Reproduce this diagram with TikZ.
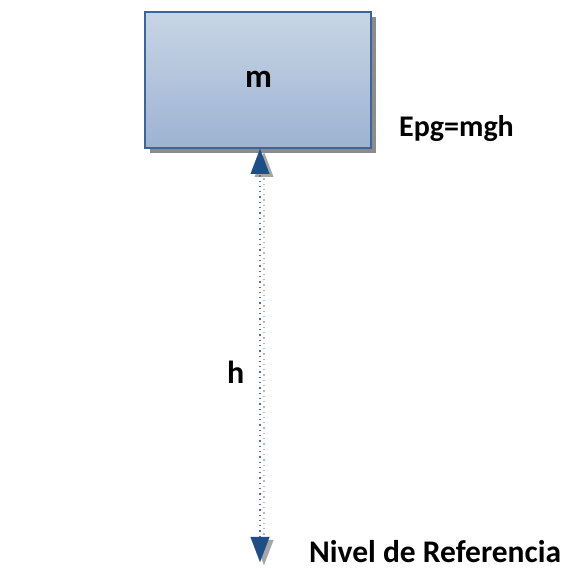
\documentclass[tikz,border=0pt]{standalone}
\usepackage{fontspec}
\setmainfont{Carlito}
\usetikzlibrary{arrows.meta,shadows}
\definecolor{boxtop}{HTML}{C8D5E6}
\definecolor{boxbot}{HTML}{9DB3D2}
\definecolor{boxline}{HTML}{3E6597}
\definecolor{tipblue}{HTML}{1F4E86}
\definecolor{dotblue}{HTML}{4A72B0}
\definecolor{tipgray}{HTML}{A6A6A6}
\tikzset{
  massbox/.style={draw=boxline, line width=1.2pt, top color=boxtop, bottom color=boxbot,
    minimum width=226pt, minimum height=136pt, inner sep=0pt,
    drop shadow={shadow xshift=5pt, shadow yshift=-5pt, fill=black!45, opacity=1}},
  lbl/.style={font=\bfseries\fontsize{30}{34}\selectfont, inner sep=0pt},
  bluetip/.tip={Triangle[width=19pt,length=25pt,line width=0.01pt,color=tipblue,fill=tipblue]},
  graytip/.tip={Triangle[width=19pt,length=25pt,line width=0.01pt,color=tipgray,fill=tipgray]},
  harrow/.style={dotblue, line width=1.1pt, dash pattern=on 1.3pt off 4pt, bluetip-bluetip},
  hshadow/.style={tipgray!80, line width=1.1pt, dash pattern=on 1.3pt off 4pt, graytip-graytip}
}
\begin{document}
\begin{tikzpicture}[x=1pt,y=1pt]
  \useasboundingbox (0,0) rectangle (566,570);
  \node[massbox] (mass) at (258,490) {};
  \node[lbl, font=\bfseries\fontsize{33}{36}\selectfont, anchor=base] (m) at (258.5,482) {m};
  \coordinate (top) at (260,421);
  \coordinate (ref) at (260,8);
  \draw[hshadow, transform canvas={shift={(4pt,-3pt)}}] (ref) -- (top);
  \draw[harrow] (ref) -- (top);
  \node[lbl, anchor=base west] (epg) at (399,433) {Epg=mgh};
  \node[lbl, font=\bfseries\fontsize{32}{36}\selectfont, anchor=base west] (h) at (227,186) {h};
  \node[lbl, font=\bfseries\fontsize{31.5}{36}\selectfont, anchor=base west] (nivel) at (309,8) {Nivel de Referencia};
\end{tikzpicture}
\end{document}
